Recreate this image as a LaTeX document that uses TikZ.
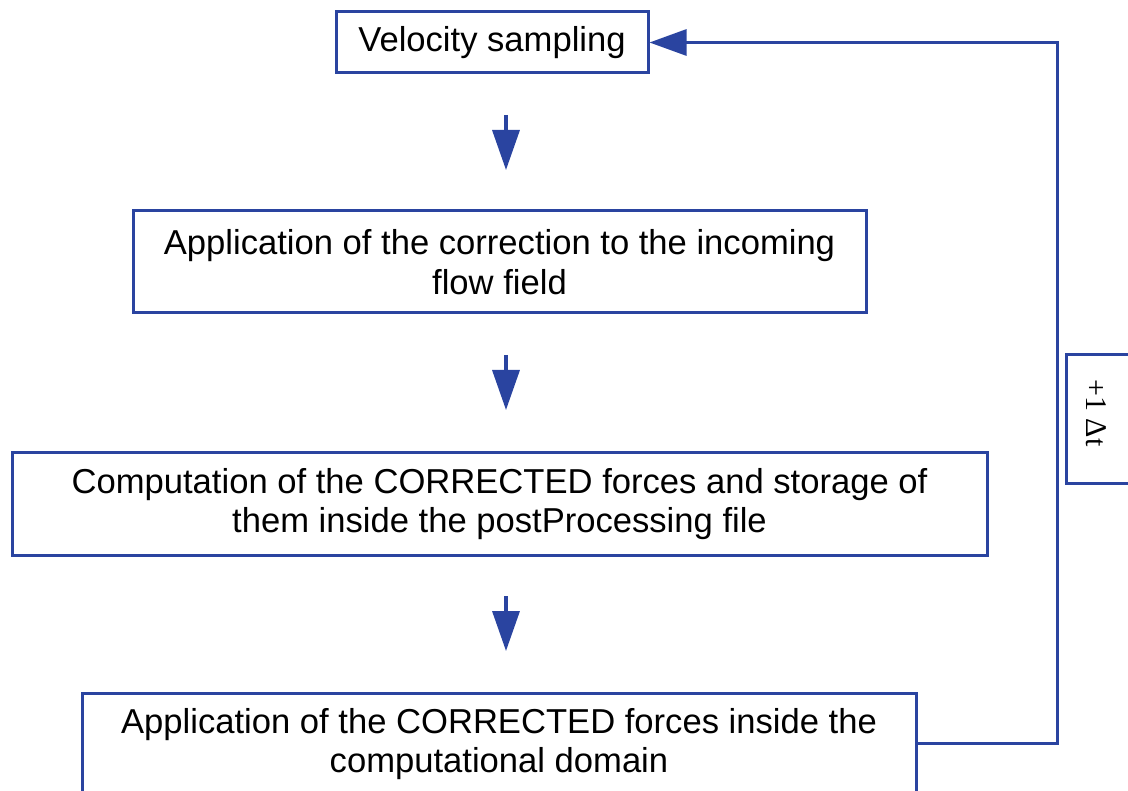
\documentclass[tikz,border=0pt]{standalone}
\usepackage{fontspec}
\setmainfont{Liberation Sans}
\newfontfamily\serifface{Liberation Serif}
\usetikzlibrary{arrows.meta}
\definecolor{flowblue}{RGB}{42,68,160}
\begin{document}
\begin{tikzpicture}[x=1pt,y=-1pt,
  stepbox/.style={draw=flowblue, line width=3pt, rectangle, inner sep=0pt,
    align=center, font=\fontsize{34.6}{39.5}\selectfont, text=black},
  flowarrow/.style={draw=flowblue, line width=3.5pt,
    -{Triangle[length=40pt,width=27pt]}},
  looparrow/.style={draw=flowblue, line width=3pt,
    -{Triangle[length=37pt,width=26pt]}}]
  \useasboundingbox (0,0) rectangle (1128,791);
  \clip (0,0) rectangle (1128,791);

  % process steps
  \node[stepbox, minimum width=312pt, minimum height=61pt] (vel) at (492,42.5)
    {Velocity sampling};
  \node[stepbox, minimum width=733pt, minimum height=102pt] (corr) at (499.5,262)
    {Application of the correction to the incoming\\flow field};
  \node[stepbox, minimum width=975pt, minimum height=102pt] (comp) at (499.5,504)
    {Computation of the CORRECTED forces and storage of\\them inside the postProcessing file};
  \node[stepbox, minimum width=834pt, minimum height=102pt] (appl) at (499,744)
    {Application of the CORRECTED forces inside the\\computational domain};

  % time-step box on the loop
  \node[draw=flowblue, line width=3pt, rectangle, inner sep=0pt,
    minimum width=69pt, minimum height=129pt] (dtbox) at (1100.5,419.5) {};
  \node[rotate=-90, font=\serifface\fontsize{30}{32}\selectfont] (dtlabel)
    at (1096,413) {+1 Δt};

  % downward arrows between the steps
  \coordinate (a1s) at (506,115); \coordinate (a1e) at (506,170);
  \coordinate (a2s) at (506,355); \coordinate (a2e) at (506,410);
  \coordinate (a3s) at (506,596); \coordinate (a3e) at (506,651);
  \draw[flowarrow] (a1s) -- (a1e);
  \draw[flowarrow] (a2s) -- (a2e);
  \draw[flowarrow] (a3s) -- (a3e);

  % feedback loop to the next time step
  \coordinate (lpb) at (1057,743);
  \coordinate (lpt) at (1057,42.5);
  \draw[looparrow] (appl.east |- lpb) -- (lpb) -- (lpt) -- (vel.east);
\end{tikzpicture}
\end{document}
